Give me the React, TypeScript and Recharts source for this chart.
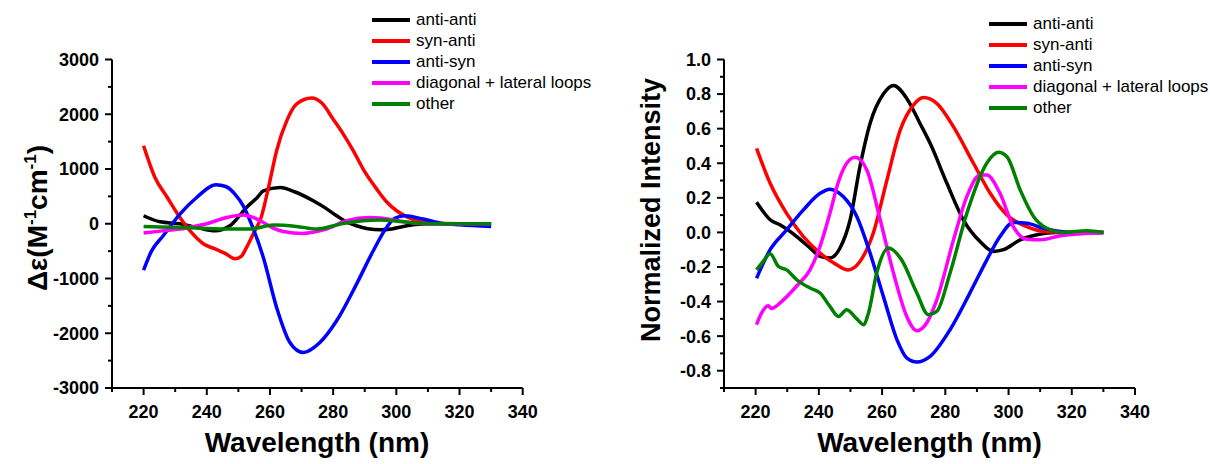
import React from "react";
import { LineChart, Line, XAxis, YAxis, Legend } from "recharts";

const font = '"Liberation Sans", Arial, sans-serif';

const seriesNames = ["anti-anti", "syn-anti", "anti-syn", "diagonal + lateral loops", "other"];
const seriesColors = ["#000000", "#ff0000", "#0000ff", "#ff00ff", "#008000"];

const xTicks = [210, 220, 230, 240, 250, 260, 270, 280, 290, 300, 310, 320, 330, 340];
const cdTicks = [-3000, -2500, -2000, -1500, -1000, -500, 0, 500, 1000, 1500, 2000, 2500, 3000];
const normTicks = [-0.9, -0.8, -0.7, -0.6, -0.5, -0.4, -0.3, -0.2, -0.1, 0, 0.1, 0.2, 0.3, 0.4, 0.5, 0.6, 0.7, 0.8, 0.9, 1.0];

// left panel: delta epsilon
const cdAntiAntiNm = [220, 225.2, 231.5, 237, 242.6, 247.3, 250, 252.6, 256, 257.9, 263.2, 268, 273.7, 277.5, 281.1, 284, 287.4, 291, 294.8, 298.5, 302.2, 306, 310, 320, 330];
const cdAntiAnti = [146, 36, 0, -70, -128, -37, 120, 300, 480, 600, 663, 580, 420, 290, 146, 40, -37, -90, -110, -95, -50, -15, 0, 0, 0];

const cdSynAntiNm = [220, 223.6, 227.5, 231.5, 235, 239, 242.6, 245.8, 248.9, 251, 252.6, 255, 257.2, 260, 262.1, 265.3, 268.4, 273.2, 276.5, 280, 283.2, 286.4, 289.5, 293.8, 296.9, 300.1, 303.3, 306.4, 310.6, 320, 330];
const cdSynAnti = [1425, 845, 480, 115, -150, -370, -460, -540, -640, -590, -430, -150, 115, 785, 1333, 1880, 2186, 2295, 2200, 1910, 1638, 1333, 999, 633, 402, 237, 128, 55, 12, 0, 0];

const cdAntiSynNm = [220, 222.5, 226.2, 231.5, 236.8, 242.9, 246, 248.9, 251.5, 253.7, 257.9, 262.1, 266.3, 270.5, 275.8, 281.1, 287.4, 292.7, 296.9, 299.5, 302.7, 308.5, 314.8, 320, 330];
const cdAntiSyn = [-846, -500, -219, 177, 480, 712, 680, 542, 330, 55, -615, -1528, -2168, -2350, -2168, -1772, -1102, -493, -68, 100, 146, 86, 5, -20, -49];

const cdLoopsNm = [220, 226, 231.5, 236, 240, 246.3, 251.6, 254.5, 257.9, 261, 264.2, 270.5, 274, 277.9, 284.2, 291.6, 295, 299, 303, 307.5, 315, 330];
const cdLoops = [-170, -130, -97, -50, 0, 115, 160, 120, 24, -80, -140, -177, -150, -97, 55, 115, 105, 68, 30, 5, 0, 0];

const cdOtherNm = [220, 236.8, 247.3, 253.7, 261.2, 268.4, 274.8, 283.1, 294.8, 302.2, 310, 330];
const cdOther = [-49, -79, -97, -97, -24, -49, -97, 5, 68, 36, 0, 0];

// right panel: normalized intensity
const nAntiAntiNm = [220.3, 222.4, 224.6, 227.7, 233, 237.2, 240.4, 243.5, 246.7, 249.9, 253, 256.2, 260.4, 263.6, 267.8, 272, 275.2, 280.5, 285.7, 291, 295.2, 298.4, 303.7, 309, 315, 330];
const nAntiAnti = [0.174, 0.12, 0.073, 0.044, -0.024, -0.09, -0.139, -0.148, -0.09, 0.073, 0.38, 0.63, 0.8, 0.85, 0.775, 0.63, 0.515, 0.284, 0.073, -0.053, -0.11, -0.1, -0.043, -0.014, 0, 0];

const nSynAntiNm = [220.3, 224.6, 229.8, 235.1, 240.4, 245.7, 249.3, 253, 257.2, 261.5, 265.7, 269.9, 273.1, 277.3, 282.6, 288.9, 294.2, 299.5, 305.8, 311, 320, 330];
const nSynAnti = [0.486, 0.284, 0.11, -0.024, -0.12, -0.188, -0.217, -0.168, -0.005, 0.3, 0.59, 0.736, 0.78, 0.746, 0.61, 0.4, 0.226, 0.1, 0.033, 0.005, 0, 0];

const nAntiSynNm = [220.3, 224.6, 229.8, 235.1, 240.4, 243.5, 247.7, 252, 256.2, 260.4, 264.7, 267.8, 271, 275.2, 281.5, 287.8, 293.1, 297.3, 301.5, 305.8, 311, 319.5, 330];
const nAntiSyn = [-0.265, -0.1, 0.014, 0.13, 0.226, 0.25, 0.207, 0.092, -0.12, -0.37, -0.62, -0.726, -0.75, -0.717, -0.563, -0.35, -0.16, -0.024, 0.057, 0.053, 0.024, 0, 0];

const nLoopsNm = [220.3, 221.9, 224, 225, 228.8, 233, 237.2, 240.4, 243.5, 246.2, 248.8, 251.5, 255.2, 259.4, 263.6, 267.8, 271, 274.1, 277.3, 282.6, 286.8, 291, 293.1, 297.3, 301.5, 305.8, 310, 316.3, 330];
const nLoops = [-0.534, -0.466, -0.424, -0.44, -0.39, -0.31, -0.217, -0.08, 0.11, 0.293, 0.4, 0.434, 0.36, 0.073, -0.235, -0.486, -0.569, -0.524, -0.39, -0.043, 0.207, 0.332, 0.332, 0.226, 0.033, -0.04, -0.043, -0.02, 0];

const nOtherNm = [220.3, 222.4, 224.6, 227.2, 229.8, 233, 237.2, 240.4, 243.5, 246.2, 248.8, 252, 254.1, 255.7, 258.3, 262, 266.2, 271, 274.6, 277.3, 281.5, 286.8, 293.1, 296.8, 299.5, 303.7, 307.9, 312.1, 317.4, 324.8, 330];
const nOther = [-0.217, -0.168, -0.124, -0.197, -0.217, -0.274, -0.322, -0.351, -0.428, -0.486, -0.447, -0.5, -0.534, -0.466, -0.235, -0.09, -0.16, -0.351, -0.476, -0.457, -0.235, 0.11, 0.4, 0.463, 0.438, 0.245, 0.092, 0.024, 0, 0.01, 0];

const zip = (xs: number[], ys: number[]) => xs.map((x, i) => ({ nm: x, v: ys[i] }));

const leftSeries = [
  zip(cdAntiAntiNm, cdAntiAnti),
  zip(cdSynAntiNm, cdSynAnti),
  zip(cdAntiSynNm, cdAntiSyn),
  zip(cdLoopsNm, cdLoops),
  zip(cdOtherNm, cdOther),
];
const rightSeries = [
  zip(nAntiAntiNm, nAntiAnti),
  zip(nSynAntiNm, nSynAnti),
  zip(nAntiSynNm, nAntiSyn),
  zip(nLoopsNm, nLoops),
  zip(nOtherNm, nOther),
];

function XTick({ x, y, payload }: any) {
  const major = payload.value % 20 === 0;
  return (
    <g>
      <line x1={x} x2={x} y1={y} y2={y + (major ? 7 : 4)} stroke="#000" strokeWidth={2} />
      {major && (
        <text x={x} y={y + 17} dy="0.71em" textAnchor="middle" fontSize={18} fontWeight="bold" fontFamily={font} fill="#000">
          {payload.value}
        </text>
      )}
    </g>
  );
}

function makeYTick(isMajor: (v: number) => boolean, fmt: (v: number) => string) {
  return ({ x, y, payload }: any) => {
    const major = isMajor(payload.value);
    return (
      <g>
        <line x1={x} x2={x - (major ? 7 : 4)} y1={y} y2={y} stroke="#000" strokeWidth={2} />
        {major && (
          <text x={x - 13} y={y} dy="0.355em" textAnchor="end" fontSize={18} fontWeight="bold" fontFamily={font} fill="#000">
            {fmt(payload.value)}
          </text>
        )}
      </g>
    );
  };
}

const CdTick = makeYTick((v) => v % 1000 === 0, (v) => String(v));
const NormTick = makeYTick((v) => Math.round(v * 10) % 2 === 0, (v) => v.toFixed(1));

// legend keeps the series order (recharts sorts the payload by name)
function LegendBox() {
  return (
    <div style={{ fontFamily: font, fontSize: 17, color: "#000" }}>
      {seriesNames.map((name, i) => (
        <div key={name} style={{ display: "flex", alignItems: "center", height: 21, whiteSpace: "nowrap" }}>
          <span style={{ display: "inline-block", width: 38, height: 4, background: seriesColors[i], marginRight: 6 }} />
          <span>{name}</span>
        </div>
      ))}
    </div>
  );
}

function xTitle(cx: number) {
  return () => (
    <text x={cx} y={452} textAnchor="middle" fontSize={28} fontWeight="bold" fontFamily={font} fill="#000">
      Wavelength (nm)
    </text>
  );
}

const cdTitle = () => (
  <text transform="translate(47 218) rotate(-90)" textAnchor="middle" fontSize={28} fontWeight="bold" fontFamily={font} fill="#000">
    Δε(M<tspan dy={-11} fontSize={17}>-1</tspan>
    <tspan dy={11}>cm</tspan>
    <tspan dy={-11} fontSize={17}>-1</tspan>
    <tspan dy={11}>)</tspan>
  </text>
);

const normTitle = () => (
  <text transform="translate(60 210) rotate(-90)" textAnchor="middle" fontSize={27} fontWeight="bold" fontFamily={font} fill="#000">
    Normalized Intensity
  </text>
);

function Panel({
  left, width, marginLeft, marginRight, series, yDomain, yTicks, yTick, yTitle, xTitleX, legendLeft, legendTop,
}: any) {
  return (
    <div style={{ position: "absolute", left, top: 0 }}>
      <LineChart width={width} height={464} margin={{ top: 59.5, right: marginRight, bottom: 0, left: marginLeft }}>
        <XAxis
          dataKey="nm"
          type="number"
          domain={[210, 340]}
          ticks={xTicks}
          interval={0}
          allowDataOverflow
          height={76}
          tickSize={0}
          tickMargin={0}
          tickLine={false}
          tick={XTick}
          axisLine={{ stroke: "#000", strokeWidth: 2 }}
          label={{ content: xTitle(xTitleX) }}
        />
        <YAxis
          type="number"
          domain={yDomain}
          ticks={yTicks}
          interval={0}
          allowDataOverflow
          width={60}
          tickSize={0}
          tickMargin={0}
          tickLine={false}
          tick={yTick}
          axisLine={{ stroke: "#000", strokeWidth: 2 }}
          label={{ content: yTitle }}
        />
        <Legend
          layout="vertical"
          align="center"
          verticalAlign="middle"
          content={LegendBox}
          wrapperStyle={{ left: legendLeft, top: legendTop, width: 260 }}
        />
        {series.map((d: any[], i: number) => (
          <Line
            key={seriesNames[i]}
            data={d}
            dataKey="v"
            name={seriesNames[i]}
            type="monotone"
            stroke={seriesColors[i]}
            strokeWidth={3.5}
            dot={false}
            activeDot={false}
            isAnimationActive={false}
          />
        ))}
      </LineChart>
    </div>
  );
}

export default function App() {
  return (
    <div style={{ position: "absolute", left: 0, top: 0, width: 1210, height: 464, background: "#fff" }}>
      <Panel
        left={0}
        width={560}
        marginLeft={52}
        marginRight={37.3}
        series={leftSeries}
        yDomain={[-3000, 3000]}
        yTicks={cdTicks}
        yTick={CdTick}
        yTitle={cdTitle}
        xTitleX={317}
        legendLeft={372}
        legendTop={9.5}
      />
      <Panel
        left={600}
        width={610}
        marginLeft={64}
        marginRight={75}
        series={rightSeries}
        yDomain={[-0.9, 1.0]}
        yTicks={normTicks}
        yTick={NormTick}
        yTitle={normTitle}
        xTitleX={329.5}
        legendLeft={389}
        legendTop={13.5}
      />
    </div>
  );
}
